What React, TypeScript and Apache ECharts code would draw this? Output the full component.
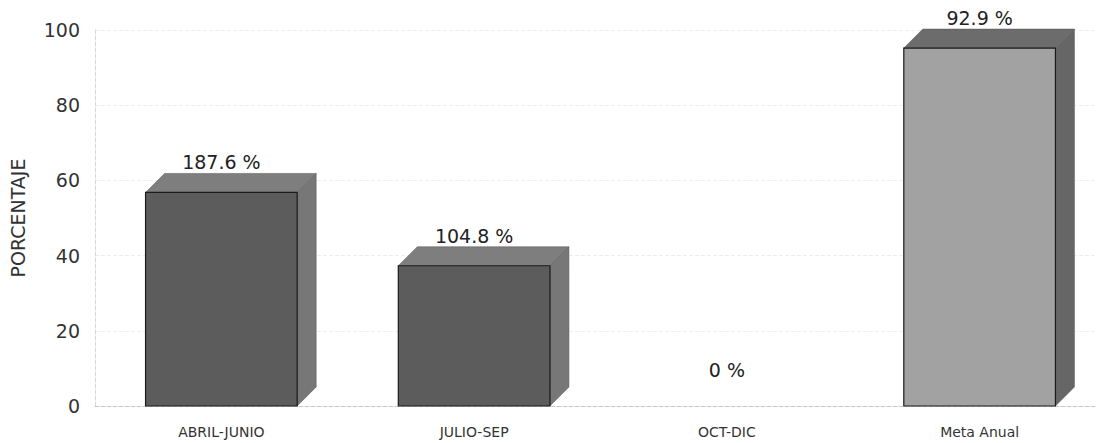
import React, { useEffect, useRef } from "react";
import * as echarts from "echarts";

const categories = ["ABRIL-JUNIO", "JULIO-SEP", "OCT-DIC", "Meta Anual"];
const barHeights = [56.8, 37.3, 0, 95.2];
const barLabels = ["187.6 %", "104.8 %", "0 %", "92.9 %"];
const yTicks = [0, 20, 40, 60, 80, 100];

const faceColors = [
  { front: "#5c5c5c", top: "#7e7e7e", side: "#777777" },
  { front: "#5c5c5c", top: "#7e7e7e", side: "#777777" },
  { front: "#5c5c5c", top: "#7e7e7e", side: "#777777" },
  { front: "#a2a2a2", top: "#6c6c6c", side: "#666666" },
];

export default function App() {
  const ref = useRef<HTMLDivElement>(null);
  useEffect(() => {
    document.body.style.margin = "0";
    document.body.style.overflow = "hidden";
    const chart = echarts.init(ref.current!, null, { renderer: "svg" });
    const font = "DejaVu Sans, Verdana, sans-serif";
    chart.setOption({
      animation: false,
      backgroundColor: "#ffffff",
      grid: { left: 93, top: 30, width: 1013, height: 376, containLabel: false },
      xAxis: {
        type: "category",
        data: categories,
        boundaryGap: true,
        axisTick: { show: false },
        axisLine: { show: true, lineStyle: { color: "#c8c8c8", type: "dashed" } },
        axisLabel: { color: "#333", fontSize: 14, fontFamily: font, margin: 19 },
        splitLine: { show: false },
      },
      yAxis: {
        type: "value",
        min: yTicks[0],
        max: yTicks[yTicks.length - 1],
        interval: 20,
        name: "PORCENTAJE",
        nameLocation: "middle",
        nameGap: 68,
        nameTextStyle: { color: "#333", fontSize: 19, fontFamily: font },
        axisLine: { show: true, lineStyle: { color: "#d8d8d8", type: "dashed" } },
        axisTick: { show: false },
        axisLabel: { color: "#333", fontSize: 19, fontFamily: font, margin: 15 },
        splitLine: { show: true, lineStyle: { color: "#eeeeee", type: "dashed" } },
      },
      series: [
        {
          type: "custom",
          data: barHeights.map((v, i) => [i, v]),
          encode: { x: 0, y: 1 },
          renderItem: (params: any, api: any) => {
            const idx = api.value(0);
            const val = api.value(1);
            const top = api.coord([idx, val]);
            const base = api.coord([idx, 0]);
            const band = api.size([1, 0])[0];
            const w = band * 0.6;
            const d = 19;
            const x0 = top[0] - w / 2;
            const x1 = top[0] + w / 2;
            const yT = top[1];
            const yB = base[1];
            const c = faceColors[idx];
            const children: any[] = [];
            if (val > 0) {
              children.push({
                type: "polygon",
                shape: { points: [[x1, yT], [x1 + d, yT - d], [x1 + d, yB - d], [x1, yB]] },
                style: { fill: c.side, stroke: "#555", lineWidth: 0.5 },
              });
              children.push({
                type: "polygon",
                shape: { points: [[x0, yT], [x0 + d, yT - d], [x1 + d, yT - d], [x1, yT]] },
                style: { fill: c.top, stroke: "#555", lineWidth: 0.5 },
              });
              children.push({
                type: "rect",
                shape: { x: x0, y: yT, width: w, height: yB - yT },
                style: { fill: c.front, stroke: "#1a1a1a", lineWidth: 1.2 },
              });
            }
            children.push({
              type: "text",
              style: {
                text: barLabels[idx],
                x: top[0],
                y: val > 0 ? yT - 30 : yB - 36,
                align: "center",
                verticalAlign: "middle",
                fill: "#222",
                fontSize: 19,
                fontFamily: font,
              },
            });
            return { type: "group", children };
          },
        },
      ],
    });
    return () => chart.dispose();
  }, []);
  return <div ref={ref} style={{ width: 1110, height: 443 }} />;
}
